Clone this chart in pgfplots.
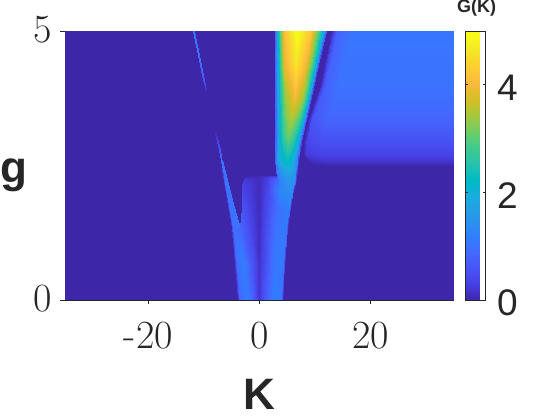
\documentclass[border=0pt]{standalone}
\usepackage{fontspec}
\usepackage{pgfplots}
\pgfplotsset{compat=1.18}
\newfontfamily\arial{Liberation Sans}
\definecolor{axc}{rgb}{0.15,0.15,0.15}
% older MATLAB parula, every third row or so
\pgfplotsset{colormap={parula}{
rgb=(0.2422,0.1504,0.6603) rgb=(0.2647,0.1978,0.7952) rgb=(0.2783,0.2559,0.8991)
rgb=(0.2813,0.3006,0.9414) rgb=(0.2795,0.3447,0.9717) rgb=(0.2699,0.3892,0.9906)
rgb=(0.2440,0.4358,0.9988) rgb=(0.1963,0.4847,0.9892) rgb=(0.1786,0.5289,0.9682)
rgb=(0.1687,0.5703,0.9359) rgb=(0.1460,0.6091,0.9079) rgb=(0.1248,0.6459,0.8883)
rgb=(0.0952,0.6798,0.8598) rgb=(0.0297,0.7082,0.8163) rgb=(0.0067,0.7312,0.7660)
rgb=(0.0964,0.7500,0.7120) rgb=(0.1717,0.7670,0.6554) rgb=(0.2161,0.7843,0.5923)
rgb=(0.2906,0.7973,0.5188) rgb=(0.3909,0.8029,0.4354) rgb=(0.5044,0.7993,0.3480)
rgb=(0.6174,0.7876,0.2612) rgb=(0.7242,0.7698,0.1910) rgb=(0.8203,0.7498,0.1535)
rgb=(0.9035,0.7330,0.1774) rgb=(0.9728,0.7298,0.2394) rgb=(0.9970,0.7659,0.2199)
rgb=(0.9892,0.8136,0.1885) rgb=(0.9676,0.8639,0.1643) rgb=(0.9597,0.9135,0.1423)
rgb=(0.9691,0.9606,0.1064) rgb=(0.9769,0.9839,0.0805)}}
\begin{document}
\begin{tikzpicture}
\path[use as bounding box] (0,0) rectangle (560pt,420pt);
\begin{axis}[
  at={(65pt,120pt)}, anchor=south west,
  scale only axis, width=389pt, height=269pt,
  xmin=-35, xmax=35, ymin=0, ymax=5,
  xtick={-20,0,20}, xticklabels={-20,0,20},
  ytick={0,5}, yticklabels={0,5},
  axis lines=left, axis line style={-,axc,line width=0.8pt},
  tick align=outside, major tick length=4.5pt,
  tick style={axc,line width=0.8pt},
  xtick pos=bottom, ytick pos=left,
  tick label style={font=\fontsize{40}{40}\selectfont,text=axc},
  xticklabel style={yshift=-14pt},
  yticklabel style={xshift=-5pt,yshift=1pt},
  xlabel={\arial\bfseries K},
  x label style={font=\fontsize{44}{44}\selectfont,text=axc,at={(axis description cs:0.5,-0.349)},anchor=center},
  ylabel={\arial\bfseries g},
  y label style={font=\fontsize{44}{44}\selectfont,text=axc,rotate=-90,at={(axis description cs:-0.131,0.465)},anchor=center},
  title={\arial\bfseries G(K)},
  title style={font=\fontsize{18}{18}\selectfont,text=axc,at={(axis description cs:1.058,1.062)},anchor=center},
  colormap name=parula,
  point meta min=0, point meta max=5,
  colorbar,
  colorbar style={
    at={(parent axis.north east)}, anchor=north west, xshift=3pt,
    width=20pt, ytick={0,2,4}, yticklabels={0,2,4},
    axis line style={axc,line width=0.8pt},
    tick align=inside, major tick length=2.5pt,
    tick style={axc,line width=0.6pt},
    yticklabel style={font=\fontsize{37}{37}\selectfont\arial,text=axc,xshift=8pt,yshift=-3pt},
  },
  shader=interp,
]
% background
\addplot[surf,mesh/rows=2,mesh/cols=2,point meta=\thisrow{v}] table {
K g v
-35 0 0
35 0 0
-35 5 0
35 5 0
};
% plateau at the upper right
\addplot[surf,mesh/rows=7,mesh/cols=4,point meta=\thisrow{v}] table {
K g v
9 2.5 0
10 2.5 0
12 2.5 0
35 2.5 0
8.3 2.6 0
9.2 2.6 0.14
11.5 2.6 0.22
35 2.6 0.22
7.75 2.7 0
8.4 2.7 0.24
11 2.7 0.33
35 2.7 0.33
7.9 2.92 0
8.5 2.92 0.38
11 2.92 0.52
35 2.92 0.52
8.65 3.35 0
9.4 3.35 0.60
12 3.35 0.82
35 3.35 0.82
10.8 4 0
11.8 4 0.75
14.3 4 1.02
35 4 1.02
12.9 5 0
13.9 5 0.80
16.4 5 1.05
35 5 1.05
};
% lower left lobe
\addplot[surf,mesh/rows=3,mesh/cols=3,point meta=\thisrow{v}] table {
K g v
-4.05 0 0
-3.42 0 0.85
-2.16 0 1.15
-4.5 0.65 0
-4.05 0.65 0.95
-2.7 0.65 1.15
-5.1 1.34 0
-4.8 1.34 0.95
-3.51 1.34 0.85
};
% spike above the lobe
\addplot[surf,mesh/rows=4,mesh/cols=3,point meta=\thisrow{v}] table {
K g v
-5.1 1.34 0
-4.8 1.34 0.95
-3.51 1.34 1.05
-5.87 1.86 0.2
-5.64 1.86 1.0
-4.94 1.86 1.05
-6.52 2.32 0.4
-6.38 2.32 1.0
-6.09 2.32 1.0
-6.92 2.6 0.6
-6.86 2.6 1.0
-6.77 2.6 0.9
};
% thin line, lower piece
\addplot[surf,mesh/rows=3,mesh/cols=2,point meta=\thisrow{v}] table {
K g v
-6.92 2.6 0.9
-6.77 2.6 0.9
-7.28 2.79 0.6
-7.16 2.79 0.6
-7.95 3.1 0.1
-7.91 3.1 0.1
};
% thin line, upper piece
\addplot[surf,mesh/rows=4,mesh/cols=2,point meta=\thisrow{v}] table {
K g v
-9.62 3.9 0.15
-9.57 3.9 0.15
-10.12 4.09 0.6
-10.0 4.09 0.6
-10.85 4.46 0.95
-10.66 4.46 0.95
-11.98 5 1.1
-11.72 5 1.1
};
% box left of K=0
\addplot[surf,mesh/rows=7,mesh/cols=3,point meta=\thisrow{v}] table {
K g v
-2.16 0 1.15
-1.08 0 0.75
-0.05 0 0.18
-2.7 0.65 1.15
-1.3 0.65 0.60
-0.05 0.65 0.15
-3.51 1.34 0.85
-1.6 1.34 0.38
-0.05 1.34 0.10
-3.06 1.73 0.55
-1.6 1.73 0.28
-0.05 1.73 0.08
-3.06 2.14 0.33
-1.6 2.14 0.22
-0.05 2.14 0.08
-2.7 2.25 0.22
-1.6 2.25 0.18
-0.05 2.25 0.08
-1.8 2.32 0
-1.2 2.32 0
-0.05 2.32 0
};
% right of K=0, up to g=2.04
\addplot[surf,mesh/rows=5,mesh/cols=5,point meta=\thisrow{v}] table {
K g v
-0.05 0 0.18
0.9 0 0.60
2.34 0 1.15
3.78 0 1.10
4.14 0 0
-0.05 0.65 0.15
0.95 0.65 0.50
2.6 0.65 1.10
4.27 0.65 1.10
4.58 0.65 0
-0.05 1.34 0.10
1.08 1.34 0.42
2.88 1.34 1.05
4.68 1.34 1.10
5.05 1.34 0
-0.05 1.73 0.08
1.2 1.73 0.40
3.24 1.73 1.00
5.33 1.73 1.20
5.64 1.73 0
-0.05 2.04 0.08
1.3 2.04 0.38
3.42 2.04 1.30
5.82 2.04 1.40
6.13 2.04 0
};
% top of the box right of K=0
\addplot[surf,mesh/rows=4,mesh/cols=3,point meta=\thisrow{v}] table {
K g v
-0.05 2.04 0.08
1.3 2.04 0.38
3.42 2.04 1.30
-0.05 2.17 0.08
1.26 2.17 0.32
3.24 2.17 1.00
-0.05 2.27 0.08
1.26 2.27 0.28
3.06 2.27 0.70
-0.05 2.32 0
1.26 2.32 0
2.97 2.32 0
};
% main wedge
\addplot[surf,mesh/rows=7,mesh/cols=9,point meta=\thisrow{v}] table {
K g v
3.42 2.04 1.30
3.60 2.04 1.30
3.78 2.04 1.30
4.14 2.04 1.30
4.68 2.04 1.35
5.05 2.04 1.38
5.46 2.04 1.40
5.82 2.04 1.40
6.13 2.04 0
3.06 2.27 0.70
3.33 2.27 1.10
3.60 2.27 1.25
4.14 2.27 1.40
4.86 2.27 1.55
5.41 2.27 1.55
5.95 2.27 1.50
6.36 2.27 1.40
6.58 2.27 0.30
2.70 2.6 0.70
2.97 2.6 1.30
3.33 2.6 1.75
3.96 2.6 2.10
4.86 2.6 2.30
5.59 2.6 2.10
6.22 2.6 1.70
6.67 2.6 1.30
6.85 2.6 0.40
2.70 3.03 0.70
3.06 3.03 1.40
3.51 3.03 2.00
4.14 3.03 2.70
5.14 3.03 3.10
6.13 3.03 2.70
6.85 3.03 2.10
7.35 3.03 1.60
7.57 3.03 0.50
2.70 3.77 0.70
3.06 3.77 1.50
3.60 3.77 2.40
4.50 3.77 3.40
6.31 3.77 4.00
7.75 3.77 3.40
8.47 3.77 2.60
8.92 3.77 1.90
9.19 3.77 0.60
2.70 4.37 0.80
3.06 4.37 1.70
3.60 4.37 2.70
4.41 4.37 3.85
6.49 4.37 4.65
8.29 4.37 3.95
9.37 4.37 2.90
10.18 4.37 2.00
10.54 4.37 0.60
2.70 5 0.80
3.06 5 1.80
3.60 5 3.00
4.32 5 4.10
6.67 5 5.00
9.19 5 4.20
10.45 5 3.00
11.35 5 2.00
11.98 5 0.60
};
\end{axis}
\end{tikzpicture}
\end{document}
